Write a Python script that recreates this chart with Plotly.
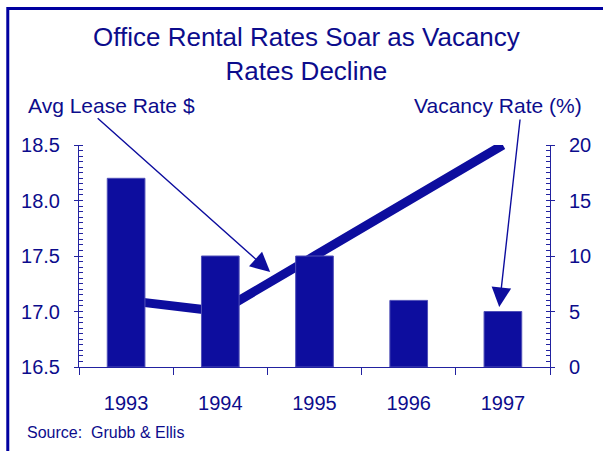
import plotly.graph_objects as go

years = ["1993", "1994", "1995", "1996", "1997"]
lease_rate = [17.1, 17.0, 17.5, 18.0, 18.5]
vacancy_rate = [17, 10, 10, 6, 5]

NAVY = "#0C0C8C"
BAR = "#0D0D9E"
AXIS = "#2222A0"
FONT = "Liberation Sans, Arial, sans-serif"

fig = go.Figure()
fig.add_trace(go.Scatter(x=years, y=lease_rate, mode="lines", yaxis="y",
                         line=dict(color=BAR, width=9), hoverinfo="skip"))
fig.add_trace(go.Bar(x=years, y=vacancy_rate, yaxis="y2", width=0.4,
                     marker=dict(color=BAR, line=dict(color="#5050B8", width=1))))

tick_font = dict(family=FONT, size=20, color=NAVY)
n = len(years)

fig.update_layout(
    width=603, height=451,
    margin=dict(l=79, r=51, t=145, b=84),
    paper_bgcolor="white", plot_bgcolor="white",
    showlegend=False,
    font=dict(family=FONT, color=NAVY),
    xaxis=dict(type="category", showline=True, linecolor=AXIS, linewidth=1,
               ticks="outside", ticklen=7, tickcolor=AXIS, tickson="boundaries",
               showgrid=False, tickfont=tick_font, ticklabelstandoff=18),
    xaxis2=dict(overlaying="x", anchor="y", type="linear", range=[-0.5, n - 0.5],
                tickvals=[i - 0.5 for i in range(n + 1)], ticks="inside", ticklen=7,
                tickcolor=AXIS, showticklabels=False, showgrid=False, zeroline=False,
                showline=False, side="bottom"),
    yaxis=dict(range=[16.5, 18.5], dtick=0.5, tickformat=".1f", showline=True,
               linecolor=AXIS, ticks="outside", ticklen=4, tickcolor=AXIS,
               minor=dict(ticks="inside", ticklen=4, dtick=0.05, tickcolor=AXIS),
               showgrid=False, zeroline=False, tickfont=tick_font, ticklabelstandoff=10),
    yaxis2=dict(range=[0, 20], dtick=5, overlaying="y", side="right", showline=True,
                linecolor=AXIS, ticks="outside", ticklen=4, tickcolor=AXIS,
                minor=dict(ticks="inside", ticklen=4, dtick=0.5, tickcolor=AXIS),
                showgrid=False, zeroline=False, tickfont=tick_font, ticklabelstandoff=10),
    yaxis3=dict(range=[16.5, 18.5], dtick=0.5, overlaying="y", side="left",
                ticks="inside", ticklen=4, tickcolor=AXIS, showticklabels=False,
                showgrid=False, zeroline=False, showline=False),
    yaxis4=dict(range=[0, 20], dtick=5, overlaying="y", side="right",
                ticks="inside", ticklen=4, tickcolor=AXIS, showticklabels=False,
                showgrid=False, zeroline=False, showline=False),
)

# frame round the whole chart
fig.add_shape(type="rect", xref="paper", yref="paper",
              x0=-0.1512, x1=1.13, y0=-0.43, y1=1.6149,
              line=dict(color="#0000A0", width=3), layer="above")

fig.add_annotation(text="Office Rental Rates Soar as Vacancy<br>Rates Decline",
                   xref="paper", yref="paper", x=0.482, y=1.4077,
                   xanchor="center", yanchor="middle", showarrow=False,
                   font=dict(family=FONT, size=26, color=NAVY))
fig.add_annotation(text="Avg Lease Rate $", xref="paper", yref="paper",
                   x=-0.112, y=1.1757, xanchor="left", yanchor="middle",
                   showarrow=False, font=dict(family=FONT, size=21, color=NAVY))
fig.add_annotation(text="Vacancy Rate (%)", xref="paper", yref="paper",
                   x=0.7061, y=1.1757, xanchor="left", yanchor="middle",
                   showarrow=False, font=dict(family=FONT, size=21, color=NAVY))
fig.add_annotation(text="Source:  Grubb &amp; Ellis", xref="paper", yref="paper",
                   x=-0.1142, y=-0.2928, xanchor="left", yanchor="middle",
                   showarrow=False, font=dict(family=FONT, size=16, color=NAVY))

# arrows from the labels
fig.add_annotation(text="", xref="paper", yref="paper", x=0.4059, y=0.4279,
                   ax=-174, ay=-155, showarrow=True, arrowhead=2, arrowsize=2.8,
                   arrowwidth=1.4, arrowcolor=BAR, standoff=0)
fig.add_annotation(text="", xref="paper", yref="paper", x=0.8922, y=0.2703,
                   ax=21, ay=-189, showarrow=True, arrowhead=2, arrowsize=2.8,
                   arrowwidth=1.4, arrowcolor=BAR, standoff=0)

fig.write_html("out.html", config={"displayModeBar": False},
               post_script="document.body.style.margin = '0';")
